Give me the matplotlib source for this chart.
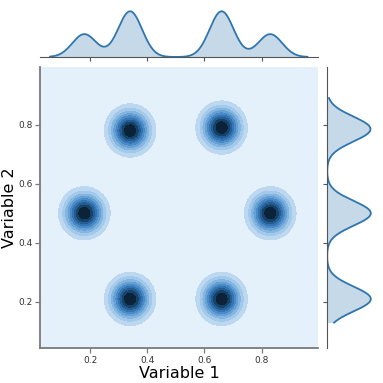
import numpy as np
import matplotlib
matplotlib.use("Agg")
import matplotlib.pyplot as plt

# blob centres
cx = [0.18, 0.34, 0.66, 0.83, 0.66, 0.34]
cy = [0.50, 0.78, 0.79, 0.50, 0.21, 0.21]
sig = [0.042, 0.042, 0.042, 0.042, 0.042, 0.042]

xlim = (0.025, 0.997)
ylim = (0.044, 0.995)
xcurve = (0.06, 0.96)
ycurve = (0.13, 0.89)
ticks = [0.2, 0.4, 0.6, 0.8]

band_colors = ["#e4f0fa", "#bcd8f0", "#a2c8ea", "#84b5e0", "#66a1d4",
               "#4a8bc7", "#3474b2", "#245d92", "#174268", "#0b2238"]

W = 383
fig = plt.figure(figsize=(3.83, 3.83), dpi=100)

def px(l, t, r, b):
    return [l / W, (W - b) / W, (r - l) / W, (b - t) / W]

ax = fig.add_axes(px(40, 67, 318, 348))
axt = fig.add_axes(px(40, 9, 318, 57))
axr = fig.add_axes(px(327, 67, 373, 348))

def mix(g, centres):
    d = np.zeros_like(g)
    for c, s in zip(centres, sig):
        d += np.exp(-(g - c) ** 2 / (2 * s * s)) / (s * np.sqrt(2 * np.pi))
    return d / len(centres)

gx = np.linspace(xlim[0], xlim[1], 300)
gy = np.linspace(ylim[0], ylim[1], 300)
X, Y = np.meshgrid(gx, gy)
Z = np.zeros_like(X)
for x0, y0, s in zip(cx, cy, sig):
    Z += np.exp(-((X - x0) ** 2 + (Y - y0) ** 2) / (2 * s * s))
levels = np.linspace(0, Z.max(), len(band_colors) + 1)
ax.contourf(X, Y, Z, levels=levels, colors=band_colors)
ax.set_xlim(xlim)
ax.set_ylim(ylim)
ax.set_xticks(ticks)
ax.set_yticks(ticks)
ax.set_xticklabels(["0.2", "0.4", "0.6", "0.8"])
ax.set_yticklabels(["0.2", "0.4", "0.6", "0.8"])
for sp in ["top", "right"]:
    ax.spines[sp].set_visible(False)
for sp in ["left", "bottom"]:
    ax.spines[sp].set_color("#7a7a7a")
    ax.spines[sp].set_linewidth(1.3)
ax.tick_params(length=3.5, width=0.9, color="#7a7a7a", labelsize=6.5,
               labelcolor="#333333", pad=2)
ax.set_xlabel("Variable 1", fontsize=11.5, labelpad=1)
ax.set_ylabel("Variable 2", fontsize=11.5, labelpad=1)

line_c = "#2f75ae"
tx = np.linspace(xcurve[0], xcurve[1], 400)
dx = mix(tx, cx)
axt.plot(tx, dx, color=line_c, lw=1.3)
axt.fill_between(tx, dx, color=line_c, alpha=0.27, lw=0)
axt.set_xlim(xlim)
axt.set_ylim(0, dx.max() * 1.05)
axt.set_xticks(ticks)
axt.set_yticks([])
axt.tick_params(length=3, width=0.8, color="#555555", labelbottom=False)
for sp in ["top", "right", "left"]:
    axt.spines[sp].set_visible(False)
axt.spines["bottom"].set_color("#555555")

ty = np.linspace(ycurve[0], ycurve[1], 400)
dy = mix(ty, cy)
axr.plot(dy, ty, color=line_c, lw=1.3)
axr.fill_betweenx(ty, dy, color=line_c, alpha=0.27, lw=0)
axr.set_ylim(ylim)
axr.set_xlim(0, dy.max() * 1.05)
axr.set_yticks(ticks)
axr.set_xticks([])
axr.tick_params(length=3, width=0.8, color="#555555", labelleft=False)
for sp in ["top", "right", "bottom"]:
    axr.spines[sp].set_visible(False)
axr.spines["left"].set_color("#555555")

fig.savefig("out.png", dpi=100)
